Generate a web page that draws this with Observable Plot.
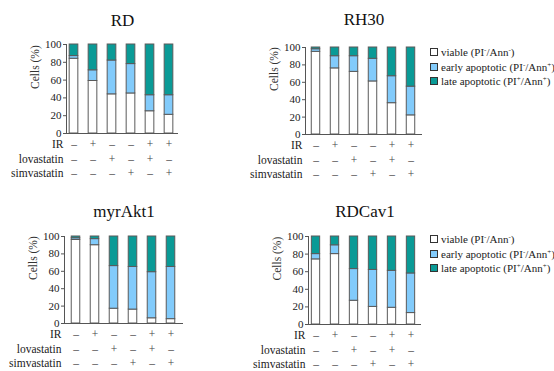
<!DOCTYPE html>
<html>
<head>
<meta charset="utf-8">
<script src="https://cdn.jsdelivr.net/npm/d3@7"></script>
<script src="https://cdn.jsdelivr.net/npm/@observablehq/plot@0.6"></script>
<style>
  html, body { margin: 0; padding: 0; background: #fff; overflow: hidden; }
  #fig { position: relative; width: 554px; height: 371px; overflow: hidden; font-family: "Liberation Serif", "Times New Roman", serif; }
  .panel { position: absolute; }
  .panel svg { overflow: visible; }
  .legend { position: absolute; font-size: 11px; color: #222; white-space: nowrap; }
  .legend .row { height: 14.5px; line-height: 14.5px; }
  .legend .sw { display: inline-block; width: 6px; height: 6px; border: 1px solid #333; margin-right: 3px; vertical-align: 0px; }
  .legend sup { font-size: 7px; vertical-align: 4px; line-height: 0; }
</style>
</head>
<body>
<div id="fig"></div>
<script>
// ---- data ----
const conditions = ["c1", "c2", "c3", "c4", "c5", "c6"];
const treatments = ["IR", "lovastatin", "simvastatin"];
const IR          = ["–", "+", "–", "–", "+", "+"];
const lovastatin  = ["–", "–", "+", "–", "+", "–"];
const simvastatin = ["–", "–", "–", "+", "–", "+"];
const seriesNames = ["viable", "early apoptotic", "late apoptotic"];
const seriesLabels = ["viable (PI<sup>-</sup>/Ann<sup>-</sup>)", "early apoptotic (PI<sup>-</sup>/Ann<sup>+</sup>)", "late apoptotic (PI<sup>+</sup>/Ann<sup>+</sup>)"];
const panelTitles = ["RD", "RH30", "myrAkt1", "RDCav1"];
const yTicks = [0, 20, 40, 60, 80, 100];
const yLabel = "Cells (%)";

const RD_viable = [84, 59, 44, 45, 25, 21];
const RD_early  = [3, 12, 38, 33, 18, 22];
const RD_late   = [13, 29, 18, 22, 57, 57];

const RH30_viable = [95, 76, 72, 61, 36, 22];
const RH30_early  = [3, 14, 18, 26, 31, 33];
const RH30_late   = [2, 10, 10, 13, 33, 45];

const myrAkt1_viable = [96, 90, 17, 16, 6, 5];
const myrAkt1_early  = [2, 7, 49, 49, 53, 60];
const myrAkt1_late   = [2, 3, 34, 35, 41, 35];

const RDCav1_viable = [74, 80, 27, 20, 19, 13];
const RDCav1_early  = [6, 10, 36, 42, 42, 45];
const RDCav1_late   = [20, 10, 37, 38, 39, 42];

// ---- styles ----
const colors = ["#ffffff", "#82cbfb", "#0a9a96"];

// ---- layout (positions/sizes) ----
const layouts = [
  {left: 0,   top: 0,   width: 277, height: 185, ml: 66, mr: 99,  mt: 44, mb: 52, xr: [63.3, 179.3], titleY: 20, legend: false},
  {left: 240, top: 0,   width: 314, height: 185, ml: 65, mr: 132, mt: 47, mb: 51, xr: [64.5, 181.7], titleY: 19, legend: {x: 430, y: 45}},
  {left: 0,   top: 185, width: 277, height: 186, ml: 64, mr: 94,  mt: 51, mb: 48, xr: [65.0, 181.8], titleY: 26.5, legend: false},
  {left: 240, top: 185, width: 314, height: 186, ml: 68, mr: 133, mt: 51, mb: 47, xr: [63.5, 181.6], titleY: 26.5, legend: {x: 430, y: 232}}
];

const panelData = [
  [RD_viable, RD_early, RD_late],
  [RH30_viable, RH30_early, RH30_late],
  [myrAkt1_viable, myrAkt1_early, myrAkt1_late],
  [RDCav1_viable, RDCav1_early, RDCav1_late]
];
const flags = [IR, lovastatin, simvastatin];

const fig = document.getElementById("fig");

panelData.forEach((series, p) => {
  const L = layouts[p];
  const rows = [];
  conditions.forEach((c, i) => {
    series.forEach((vals, s) => rows.push({cond: c, series: seriesNames[s], value: vals[i]}));
  });
  const step = (L.xr[1] - L.xr[0]) / conditions.length;
  const inset = (step - 9) / 2;
  const rowDy = [11, 26, 40];

  const marks = [
    Plot.barY(rows, {x: "cond", y: "value", fill: "series", stroke: "#5a5a5a", strokeWidth: 1, insetLeft: inset, insetRight: inset}),
    Plot.ruleY([0], {stroke: "#555"}),
    Plot.frame({anchor: "left", stroke: "#555"}),
    Plot.axisY({ticks: yTicks, tickSize: 3, tickPadding: 2, fontSize: 11, label: null, stroke: "#555", color: "#222"}),
    Plot.text([yLabel], {frameAnchor: "left", dx: -31, rotate: -90, fontSize: 11.5, fill: "#333"}),
    Plot.text([panelTitles[p]], {frameAnchor: "top", lineAnchor: "middle", dy: L.titleY - L.mt, fontSize: 17, fill: "#111"})
  ];
  flags.forEach((f, r) => {
    marks.push(Plot.text(conditions, {x: d => d, text: (d, i) => f[i], frameAnchor: "bottom", lineAnchor: "middle", dy: rowDy[r], fontSize: 11.5, fill: "#444"}));
    marks.push(Plot.text([treatments[r]], {frameAnchor: "bottom-left", lineAnchor: "middle", dx: -3, dy: rowDy[r], textAnchor: "end", fontSize: 11.5, fill: "#222"}));
  });

  const chart = Plot.plot({
    width: L.width,
    height: L.height,
    marginLeft: L.ml,
    marginRight: L.mr,
    marginTop: L.mt,
    marginBottom: L.mb,
    style: {fontFamily: "'Liberation Serif', 'Times New Roman', serif", background: "transparent", overflow: "visible"},
    x: {type: "band", domain: conditions, range: L.xr, padding: 0, axis: null},
    y: {domain: [0, 100], axis: null},
    color: {domain: seriesNames, range: colors},
    marks
  });
  const wrap = document.createElement("div");
  wrap.className = "panel";
  wrap.style.left = L.left + "px";
  wrap.style.top = L.top + "px";
  wrap.appendChild(chart);
  fig.appendChild(wrap);

  if (L.legend) {
    const lg = document.createElement("div");
    lg.className = "legend";
    lg.style.left = L.legend.x + "px";
    lg.style.top = L.legend.y + "px";
    seriesNames.forEach((s, i) => {
      const row = document.createElement("div");
      row.className = "row";
      row.innerHTML = `<span class="sw" style="background:${colors[i]}"></span>${seriesLabels[i]}`;
      lg.appendChild(row);
    });
    fig.appendChild(lg);
  }
});
</script>
</body>
</html>
